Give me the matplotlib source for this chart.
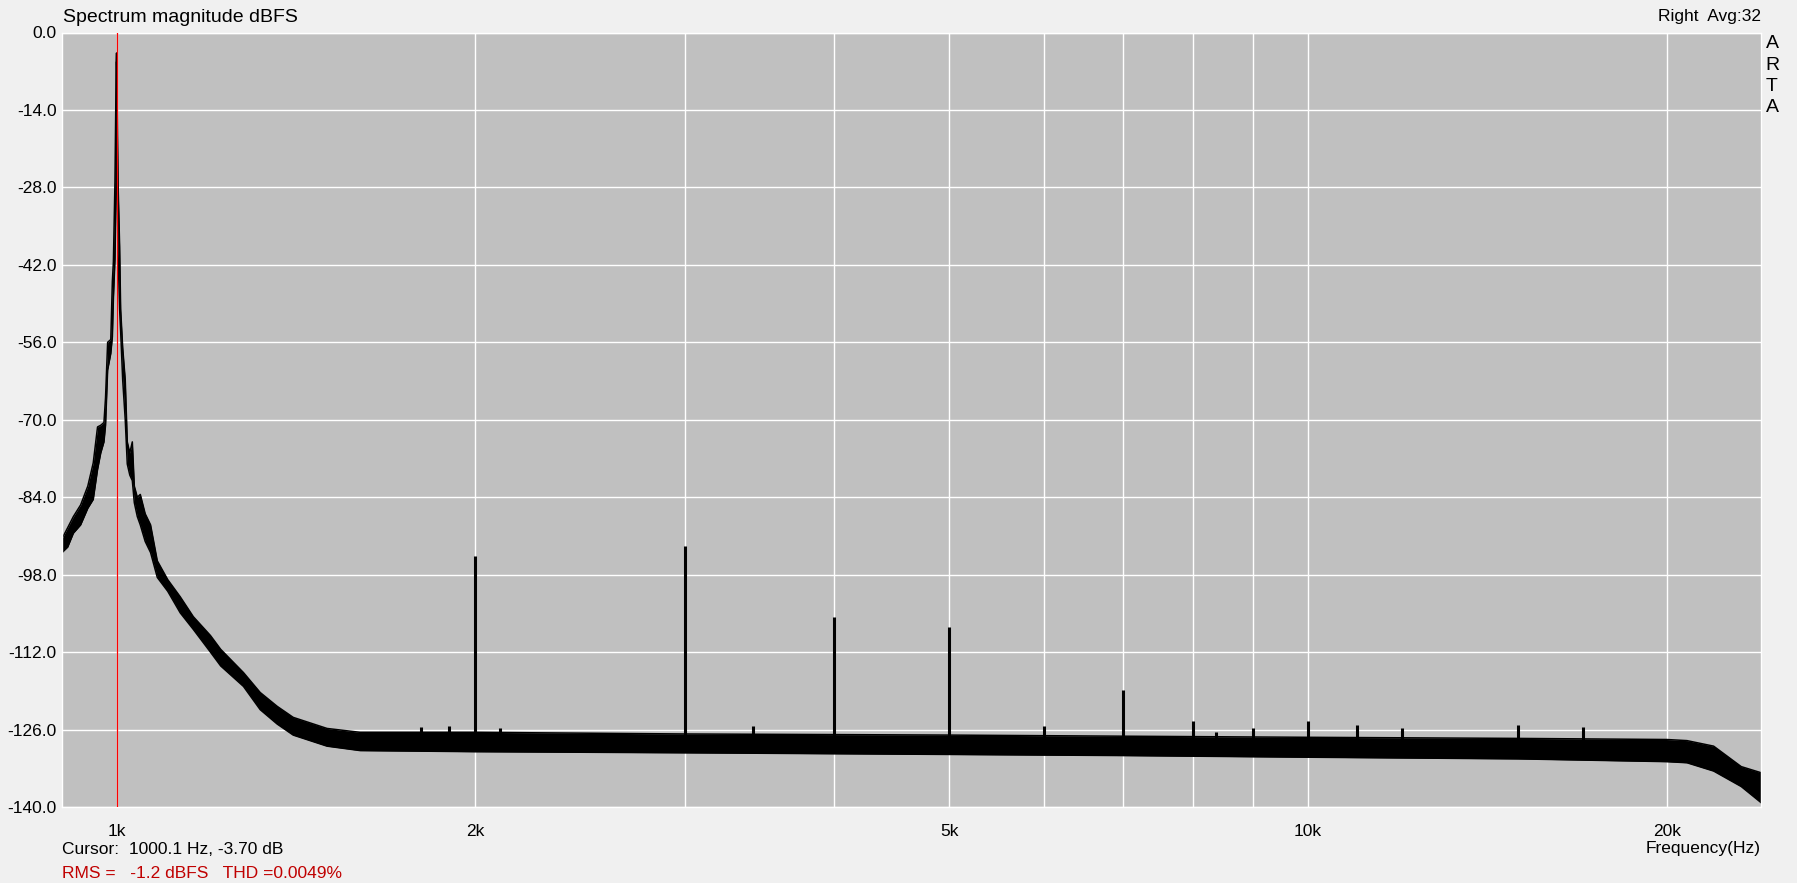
import matplotlib
matplotlib.use("Agg")
import matplotlib.pyplot as plt
from matplotlib.ticker import FixedLocator, NullFormatter

plt.rcParams['font.family'] = ['Liberation Sans', 'DejaVu Sans']

# spectrum envelope (upper / lower edge of the trace)
env_freq = [900, 910, 920, 933, 946, 956, 964, 970, 976, 979, 983, 989, 992, 994,
            997, 999.5, 1000.1, 1003, 1006, 1008, 1012, 1017, 1021, 1026, 1031,
            1035, 1041, 1047, 1057, 1068, 1082, 1104, 1131, 1160, 1199, 1223,
            1278, 1320, 1364, 1407, 1502, 1601, 2000, 3000, 5000, 7000, 10000,
            15000, 20000, 20800, 21900, 23100, 24000]
env_hi = [-91.5, -89.5, -87.5, -85.4, -82.0, -77.8, -71.3, -71.0, -70.5, -66.0,
          -56.0, -55.5, -45.0, -41.4, -27.0, -5.3, -3.7, -27.4, -38.6, -50.0,
          -57.0, -62.8, -74.0, -76.0, -74.0, -82.0, -84.0, -83.5, -87.0, -89.0,
          -95.5, -98.9, -102.0, -105.6, -109.0, -111.5, -115.7, -119.3, -121.8,
          -123.8, -125.8, -126.5, -126.5, -126.8, -127.0, -127.2, -127.4,
          -127.6, -127.8, -128.0, -129.0, -132.7, -133.8]
env_lo = [-94.0, -93.0, -90.5, -89.0, -86.0, -84.4, -79.0, -76.0, -74.0, -71.0,
          -61.0, -58.0, -55.0, -48.0, -41.0, -27.0, -5.3, -40.0, -50.0, -54.0,
          -62.8, -70.0, -78.0, -80.0, -81.0, -85.0, -87.5, -89.0, -92.0, -94.0,
          -98.5, -101.0, -104.9, -107.9, -112.0, -114.5, -118.2, -122.4, -125.0,
          -127.0, -129.0, -129.8, -130.0, -130.2, -130.5, -130.7, -131.0,
          -131.3, -131.8, -132.0, -133.5, -136.3, -139.2]

# harmonics and spurs above the noise floor
spur_freq = [2000, 3000, 4000, 5000, 6000, 7000, 8000, 9000, 10000, 11000,
             12000, 15000, 17000, 1800, 1900, 2100, 3420, 8370]
spur_db = [-94.6, -92.8, -105.6, -107.5, -125.3, -118.8, -124.5, -125.8,
           -124.4, -125.2, -125.8, -125.1, -125.5, -125.6, -125.3, -125.8,
           -125.4, -126.5]

cursor_freq = 1000.1
y_ticks = [0, -14, -28, -42, -56, -70, -84, -98, -112, -126, -140]
x_major = [1000, 2000, 5000, 10000, 20000]
x_labels = ["1k", "2k", "5k", "10k", "20k"]
x_minor = [3000, 4000, 6000, 7000, 8000, 9000]

W, H = 1797, 883
fig = plt.figure(figsize=(W / 100, H / 100), dpi=100, facecolor='#f0f0f0')
ax = fig.add_axes([62 / W, 1 - 807 / H, (1761 - 62) / W, (807 - 32.5) / H])
ax.set_facecolor('#c0c0c0')

ax.set_xscale('log')
ax.set_xlim(900, 24000)
ax.set_ylim(-140, 0)

ax.xaxis.set_major_locator(FixedLocator(x_major))
ax.xaxis.set_minor_locator(FixedLocator(x_minor))
ax.set_xticklabels(x_labels)
ax.xaxis.set_minor_formatter(NullFormatter())
ax.set_yticks(y_ticks)
ax.set_yticklabels([f"{v:.1f}" for v in y_ticks])

ax.grid(True, which='both', color='white', lw=1.0)
ax.set_axisbelow(True)
ax.tick_params(which='both', length=0, labelsize=12.5, colors='black')
ax.tick_params(axis='x', pad=12)
ax.tick_params(axis='y', pad=4)
for s in ax.spines.values():
    s.set_color('white')
    s.set_linewidth(1.0)

# spectrum trace
ax.fill_between(env_freq, env_lo, env_hi, color='black', lw=0)
ax.plot(env_freq, env_hi, color='black', lw=1.1)
ax.plot(env_freq, env_lo, color='black', lw=1.1)
ax.vlines(spur_freq, -129, spur_db, color='black', lw=2.2)

ax.axvline(cursor_freq, color='#ff0000', lw=0.9, zorder=5)

# texts around the plot
fig.text(63 / W, 1 - 17 / H, "Spectrum magnitude dBFS", fontsize=14,
         ha='left', va='center')
fig.text(1761 / W, 1 - 17 / H, "Right  Avg:32", fontsize=12.5,
         ha='right', va='center')
for i, ch in enumerate("ARTA"):
    fig.text(1772 / W, 1 - (44 + i * 21.3) / H, ch, fontsize=14,
             ha='center', va='center')
fig.text(1761 / W, 1 - 849 / H, "Frequency(Hz)", fontsize=12.5,
         ha='right', va='center')
fig.text(62 / W, 1 - 849 / H, "Cursor:  1000.1 Hz, -3.70 dB", fontsize=12.5,
         ha='left', va='center')
fig.text(62 / W, 1 - 873 / H, "RMS =   -1.2 dBFS   THD =0.0049%", fontsize=12.5,
         ha='left', va='center', color='#c00000')

fig.savefig("out.png", dpi=100, facecolor=fig.get_facecolor())
